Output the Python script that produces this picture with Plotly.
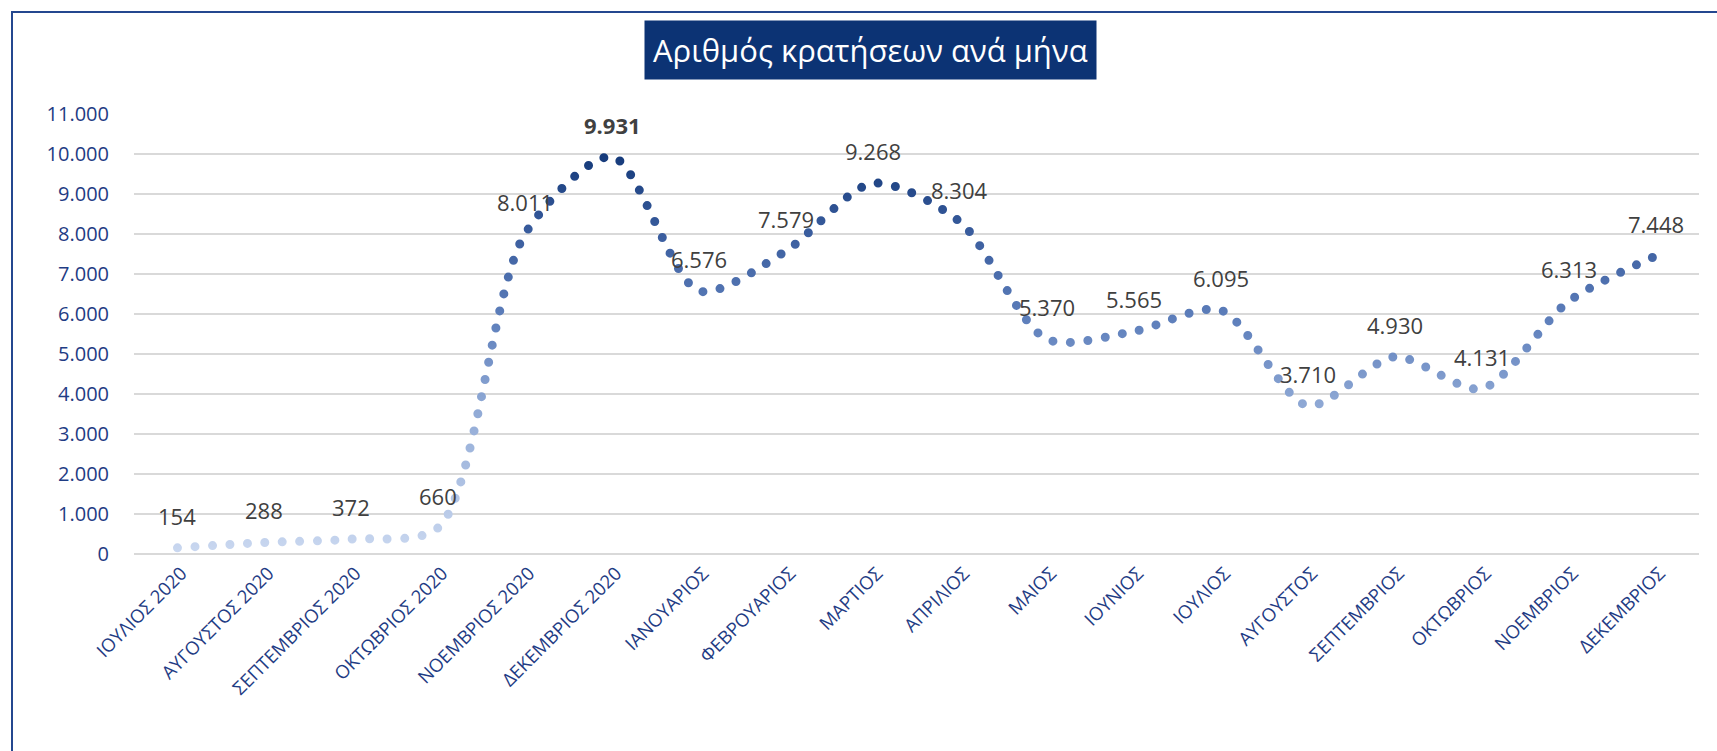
import json
import plotly.graph_objects as go

# ---- data ----
months = ["ΙΟΥΛΙΟΣ 2020", "ΑΥΓΟΥΣΤΟΣ 2020", "ΣΕΠΤΕΜΒΡΙΟΣ 2020", "ΟΚΤΩΒΡΙΟΣ 2020",
          "ΝΟΕΜΒΡΙΟΣ 2020", "ΔΕΚΕΜΒΡΙΟΣ 2020", "ΙΑΝΟΥΑΡΙΟΣ", "ΦΕΒΡΟΥΑΡΙΟΣ",
          "ΜΑΡΤΙΟΣ", "ΑΠΡΙΛΙΟΣ", "ΜΑΙΟΣ", "ΙΟΥΝΙΟΣ", "ΙΟΥΛΙΟΣ", "ΑΥΓΟΥΣΤΟΣ",
          "ΣΕΠΤΕΜΒΡΙΟΣ", "ΟΚΤΩΒΡΙΟΣ", "ΝΟΕΜΒΡΙΟΣ", "ΔΕΚΕΜΒΡΙΟΣ"]
bookings = [154, 288, 372, 660, 8011, 9931, 6576, 7579, 9268, 8304,
            5370, 5565, 6095, 3710, 4930, 4131, 6313, 7448]
y_ticks = list(range(0, 11001, 1000))
title_text = "Αριθμός κρατήσεων ανά μήνα"

# ---- layout geometry (px) ----
W, H = 1717, 751
L, R, T, B = 134, 18, 114, 197
PW, PH = W - L - R, H - T - B


def px_x(px):
    return (px - L) / PW


def px_y(py):
    return (H - B - py) / PH


def fmt(v):
    return f"{v:,}".replace(",", ".")


NAVY = "#1f3c84"

fig = go.Figure()
fig.add_trace(go.Scatter(
    x=months, y=bookings, mode="lines",
    line=dict(color="#5a7bb5", width=9, shape="spline", smoothing=0.8, dash="9px,8.5px"),
    hoverinfo="skip", showlegend=False,
))

annotations = []
for m, v in zip(months, bookings):
    txt = fmt(v)
    if v == max(bookings):
        txt = f"<b>{txt}</b>"
    annotations.append(dict(
        x=m, y=v, xref="x", yref="y", text=txt, showarrow=False,
        yshift=32, xanchor="center", yanchor="middle",
        font=dict(family="Open Sans", size=22, color="#404040"),
    ))

annotations.append(dict(
    x=px_x(870), y=px_y(50), xref="paper", yref="paper",
    text=title_text, showarrow=False, xanchor="center", yanchor="middle",
    font=dict(family="Open Sans", size=31, color="white"),
    bgcolor="#0c3374", borderpad=8,
))

fig.update_layout(
    width=W, height=H,
    margin=dict(l=L, r=R, t=T, b=B, pad=0),
    paper_bgcolor="white", plot_bgcolor="white",
    separators=",.",
    annotations=annotations,
    shapes=[dict(type="rect", xref="paper", yref="paper",
                 x0=px_x(12), x1=px_x(1725), y0=px_y(760), y1=px_y(12),
                 line=dict(color="#24478f", width=2), fillcolor="rgba(0,0,0,0)",
                 layer="above")],
    xaxis=dict(type="category", range=[-0.5, len(months) - 0.5],
               showgrid=False, showline=False, zeroline=False, ticks="",
               tickangle=-45, ticklabelstandoff=4, ticklabelshift=4,
               tickfont=dict(family="Open Sans", size=18.5, color=NAVY)),
    yaxis=dict(range=[0, 11000], tickvals=y_ticks, tickformat=",d",
               showgrid=True, gridcolor="#d9d9d9", gridwidth=1.5,
               zeroline=True, zerolinecolor="#d9d9d9", zerolinewidth=1.5,
               showline=False, ticks="", ticklabelstandoff=24,
               tickfont=dict(family="Open Sans", size=20, color=NAVY)),
)

grad_stops = [[0.0, "#cad8f0"], [0.38, "#8da7d4"], [0.58, "#5f80bc"], [0.8, "#3a5d9e"], [1.0, "#153a7a"]]

post = """
document.body.style.margin = '0';
document.body.style.padding = '0';
var gd = document.getElementById('{plot_id}');
var ya = gd._fullLayout.yaxis;
var svg = gd.querySelector('svg.main-svg');
var ns = 'http://www.w3.org/2000/svg';
var defs = svg.querySelector('defs');
if (!defs) { defs = document.createElementNS(ns, 'defs'); svg.insertBefore(defs, svg.firstChild); }
var lg = document.createElementNS(ns, 'linearGradient');
lg.setAttribute('id', 'dotgrad');
lg.setAttribute('gradientUnits', 'userSpaceOnUse');
lg.setAttribute('x1', 0); lg.setAttribute('x2', 0);
lg.setAttribute('y1', ya.l2p(0)); lg.setAttribute('y2', ya.l2p(10000));
var stops = STOPS;
stops.forEach(function(s){
  var st = document.createElementNS(ns, 'stop');
  st.setAttribute('offset', s[0]);
  st.setAttribute('stop-color', s[1]);
  lg.appendChild(st);
});
defs.appendChild(lg);
gd.querySelectorAll('.scatterlayer .js-line').forEach(function(p){
  p.style.stroke = 'url(#dotgrad)';
  p.style.strokeLinecap = 'round';
  p.style.strokeDasharray = '0px 17.5px';
});
""".replace("STOPS", json.dumps(grad_stops))

fig.write_html("out.html", post_script=post, config={"displayModeBar": False})
